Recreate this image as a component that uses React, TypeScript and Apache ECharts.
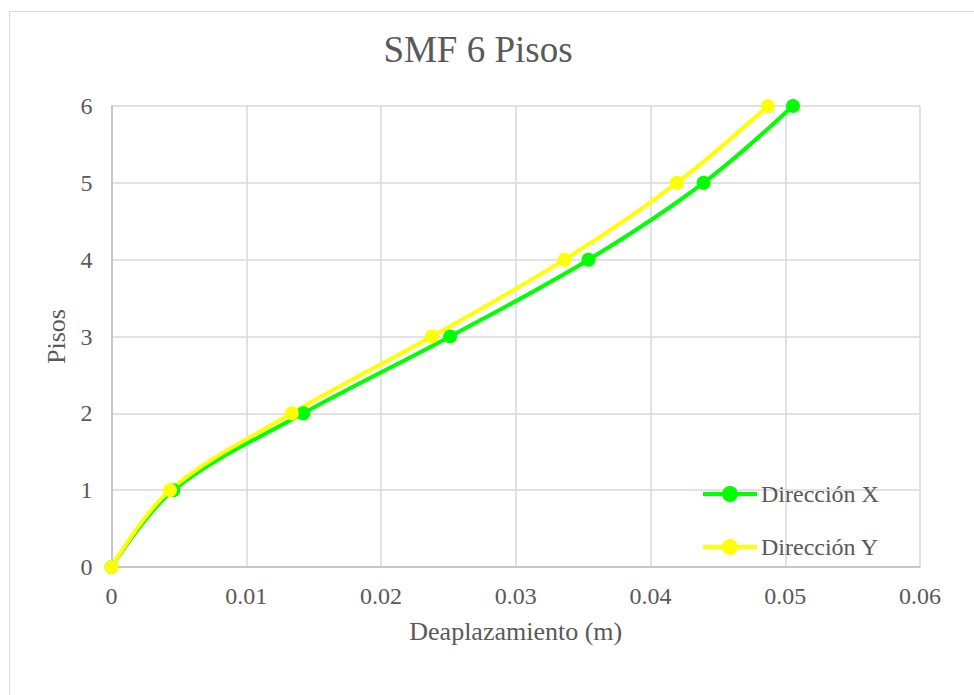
import React, { useEffect, useRef } from "react";
import * as echarts from "echarts";

const floors = [0, 1, 2, 3, 4, 5, 6];
const dirX = [0, 0.00459, 0.01424, 0.02513, 0.0354, 0.04394, 0.05057];
const dirY = [0, 0.00434, 0.01338, 0.02377, 0.03362, 0.04196, 0.04871];
const seriesNames = ["Dirección X", "Dirección Y"];
const titleText = "SMF 6 Pisos";
const xAxisName = "Deaplazamiento (m)";
const yAxisName = "Pisos";

const FONT = "'Liberation Serif', 'Times New Roman', serif";
const TXT = "#595959";

export default function App() {
  const ref = useRef<HTMLDivElement>(null);
  useEffect(() => {
    if (!ref.current) return;
    const chart = echarts.init(ref.current, null, { renderer: "svg" });
    const mk = (vals: number[]) => vals.map((v, i) => [v, floors[i]]);
    chart.setOption({
      animation: false,
      backgroundColor: "#ffffff",
      textStyle: { fontFamily: FONT, color: TXT },
      graphic: [
        {
          type: "rect",
          left: 7,
          top: 9,
          shape: { width: 1100, height: 1000 },
          style: { fill: "none", stroke: "#d9d9d9", lineWidth: 1 },
          silent: true,
          z: -1,
        },
        {
          type: "text",
          x: 478,
          y: 31,
          style: {
            text: titleText,
            fontFamily: FONT,
            fontSize: 37,
            fill: TXT,
            align: "center",
            verticalAlign: "top",
          },
        },
      ],
      grid: { left: 111.5, right: 54, top: 106, bottom: 128 },
      legend: {
        orient: "vertical",
        left: 701,
        top: 482,
        padding: 0,
        itemWidth: 54,
        itemHeight: 20,
        itemGap: 29,
        data: seriesNames,
        lineStyle: { width: 4 },
        textStyle: { fontFamily: FONT, fontSize: 24, color: TXT, padding: [0, 0, 0, -1] },
      },
      xAxis: {
        type: "value",
        min: 0,
        max: 0.06,
        interval: 0.01,
        name: xAxisName,
        nameLocation: "middle",
        nameGap: 51,
        nameTextStyle: { fontFamily: FONT, fontSize: 26, color: TXT },
        axisLine: { show: true, lineStyle: { color: "#bfbfbf", width: 1.5 } },
        axisTick: { show: false },
        axisLabel: {
          fontFamily: FONT,
          fontSize: 24,
          color: TXT,
          margin: 17,
          formatter: (v: number) => (v === 0 ? "0" : v.toFixed(2)),
        },
        splitLine: { show: true, lineStyle: { color: "#d9d9d9", width: 1.5 } },
      },
      yAxis: {
        type: "value",
        min: 0,
        max: 6,
        interval: 1,
        name: yAxisName,
        nameLocation: "middle",
        nameGap: 40,
        nameRotate: 90,
        nameTextStyle: { fontFamily: FONT, fontSize: 26, color: TXT },
        axisLine: { show: true, lineStyle: { color: "#bfbfbf", width: 1.5 } },
        axisTick: { show: false },
        axisLabel: { fontFamily: FONT, fontSize: 24, color: TXT, margin: 19 },
        splitLine: { show: true, lineStyle: { color: "#d9d9d9", width: 1.5 } },
      },
      series: [
        {
          name: seriesNames[0],
          type: "line",
          data: mk(dirX),
          smooth: 0.35,
          symbol: "circle",
          symbolSize: 14,
          lineStyle: { color: "#00ff00", width: 4 },
          itemStyle: { color: "#00ff00" },
        },
        {
          name: seriesNames[1],
          type: "line",
          data: mk(dirY),
          smooth: 0.35,
          symbol: "circle",
          symbolSize: 14,
          lineStyle: { color: "#ffff00", width: 4 },
          itemStyle: { color: "#ffff00" },
        },
      ],
    });
    return () => chart.dispose();
  }, []);
  return (
    <div
      ref={ref}
      style={{ position: "fixed", left: 0, top: 0, width: 974, height: 695 }}
    />
  );
}
